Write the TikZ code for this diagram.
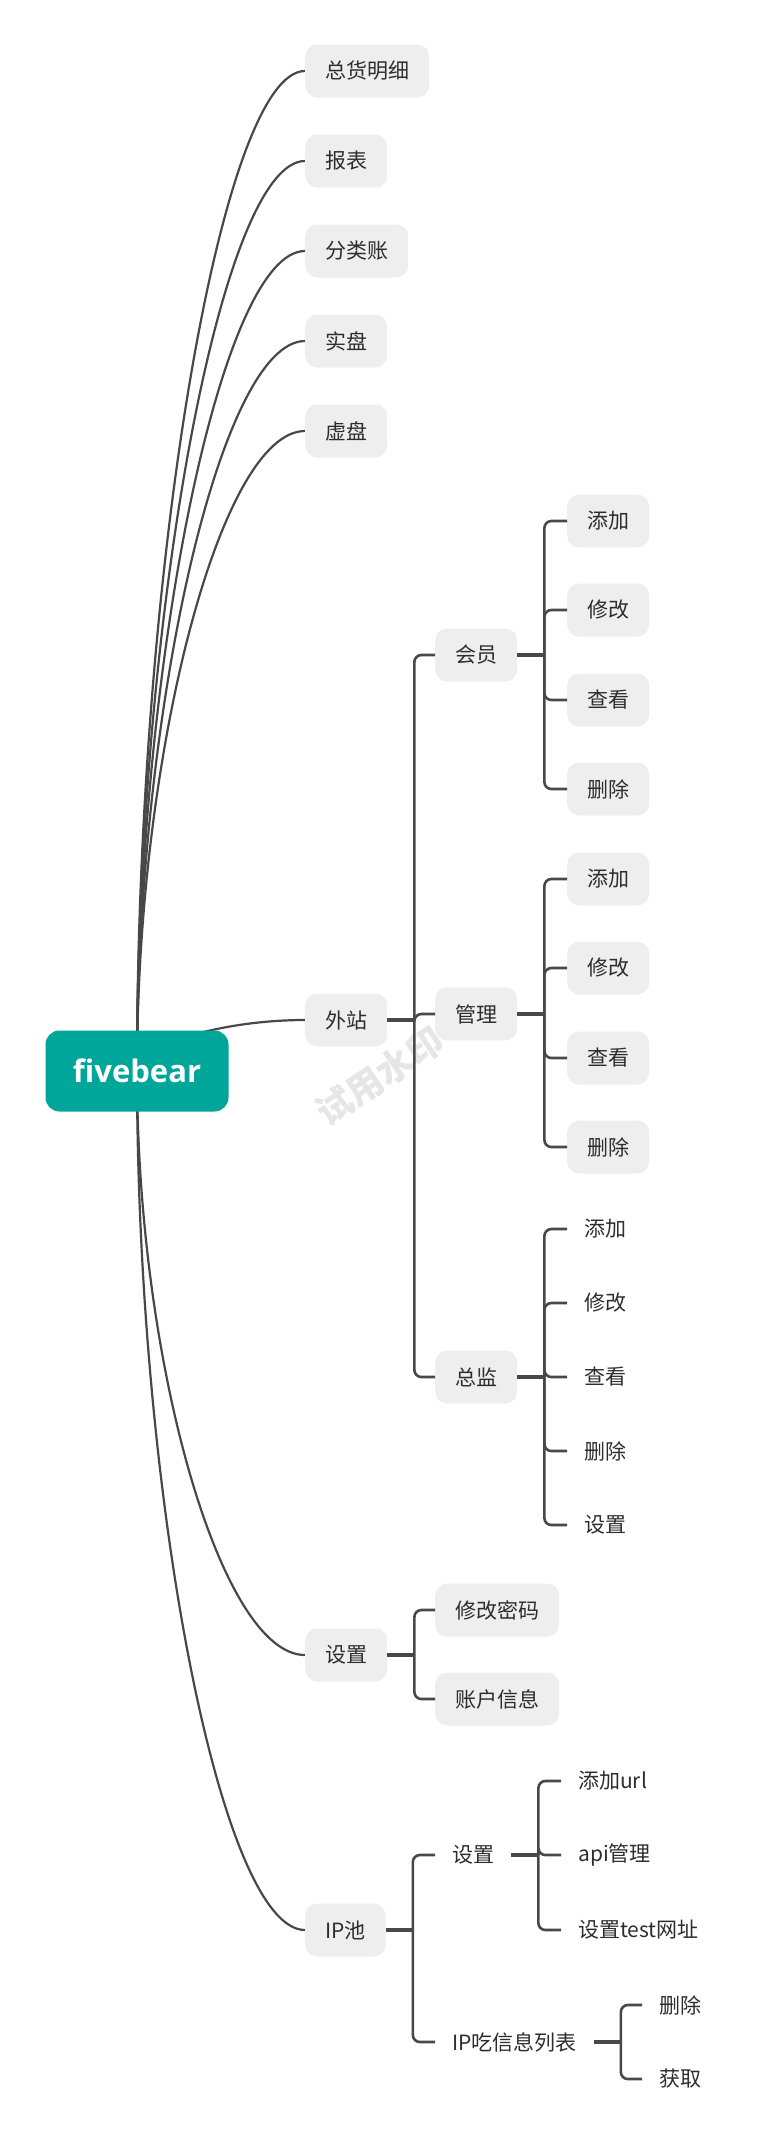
\documentclass[tikz,border=0pt]{standalone}
\usepackage{fontspec}
\usepackage{xcolor}
\usepackage{tikz}
\usetikzlibrary{calc,backgrounds}
\setmainfont{Noto Sans CJK SC}
\newfontfamily\rootfont{Open Sans}
\definecolor{rootteal}{RGB}{0, 166, 154}
\definecolor{topicgray}{RGB}{238, 238, 238}
\definecolor{linegray}{RGB}{72, 72, 72}
\definecolor{textgray}{RGB}{45, 45, 45}
\definecolor{markgray}{RGB}{230, 230, 230}

\tikzset{
    topic/.style={fill=topicgray, rounded corners=12pt, text=textgray, anchor=west,
        minimum height=53pt, inner xsep=20pt, inner ysep=0pt, font=\fontsize{21}{25}\selectfont},
    bare/.style={topic, fill=none, inner xsep=17pt},
    rootbox/.style={fill=rootteal, rounded corners=14pt, text=white, minimum width=183pt,
        minimum height=81pt, font=\rootfont\bfseries\fontsize{31}{36}\selectfont},
    curvelink/.style={linegray, line width=2.2pt},
    stub/.style={linegray, line width=3.2pt},
    branch/.style={linegray, line width=2.6pt, rounded corners=7pt},
}

\begin{document}
\begin{tikzpicture}[x=1pt, y=-1pt]
    \useasboundingbox (0,0) rectangle (763,2142);
    \node[rootbox] (root) at (137,1071) {fivebear};

    % first level
    \node[topic] (zhmx) at (305,71) {总货明细};
    \node[topic] (bb) at (305,161) {报表};
    \node[topic] (flz) at (305,251) {分类账};
    \node[topic] (sp) at (305,341) {实盘};
    \node[topic] (xp) at (305,431) {虚盘};
    \node[topic] (wz) at (305,1020) {外站};
    \node[topic] (sz) at (305,1655) {设置};
    \node[topic] (ipc) at (305,1930) {IP池};

    % second level
    \node[topic] (hy) at (435,655) {会员};
    \node[topic] (gl) at (435,1014) {管理};
    \node[topic] (zj) at (435,1377) {总监};
    \node[topic] (xgmm) at (435,1610) {修改密码};
    \node[topic] (zhxx) at (435,1699) {账户信息};
    \node[bare] (ipsz) at (435,1855) {设置};
    \node[bare] (iplb) at (435,2042) {IP吃信息列表};

    % third level
    \foreach \n/\y/\t in {1/521/添加, 2/610/修改, 3/700/查看, 4/789/删除}
        \node[topic] (hy\n) at (567,\y) {\t};
    \foreach \n/\y/\t in {1/879/添加, 2/968/修改, 3/1058/查看, 4/1147/删除}
        \node[topic] (gl\n) at (567,\y) {\t};
    \foreach \n/\y/\t in {1/1229/添加, 2/1303/修改, 3/1377/查看, 4/1451/删除, 5/1525/设置}
        \node[bare] (zj\n) at (567,\y) {\t};
    \foreach \n/\y/\t in {1/1781/添加url, 2/1855/api管理, 3/1930/设置test网址}
        \node[bare] (ipsz\n) at (561,\y) {\t};
    \foreach \n/\y/\t in {1/2005/删除, 2/2079/获取}
        \node[bare] (iplb\n) at (642,\y) {\t};

    \begin{scope}[on background layer]
        \node[rotate=34, text=markgray, font=\bfseries\fontsize{36}{40}\selectfont] (mark) at (380,1076) {试用水印};
        \foreach \c in {zhmx,bb,flz,sp,xp,wz,sz,ipc}
            \draw[curvelink] (root.center) .. controls ($(root.center)!0.5!(root.center |- \c.west)$)
                and ($(\c.west)!0.5!(root.center |- \c.west)$) .. (\c.west);
    \end{scope}

    % elbow branches
    \foreach \p in {wz,hy,gl,zj,sz,ipc,ipsz,iplb} {
        \coordinate (\p-t) at ($(\p.east)+(27,0)$);
        \draw[stub] (\p.east) -- (\p-t);
    }
    \foreach \c in {hy,gl,zj} \draw[branch] (wz-t) |- (\c.west);
    \foreach \c in {1,...,4} {
        \draw[branch] (hy-t) |- (hy\c.west);
        \draw[branch] (gl-t) |- (gl\c.west);
    }
    \foreach \c in {1,...,5} \draw[branch] (zj-t) |- (zj\c.west);
    \foreach \c in {xgmm,zhxx} \draw[branch] (sz-t) |- (\c.west);
    \foreach \c in {ipsz,iplb} \draw[branch] (ipc-t) |- (\c.west);
    \foreach \c in {1,2,3} \draw[branch] (ipsz-t) |- (ipsz\c.west);
    \foreach \c in {1,2} \draw[branch] (iplb-t) |- (iplb\c.west);
\end{tikzpicture}
\end{document}
